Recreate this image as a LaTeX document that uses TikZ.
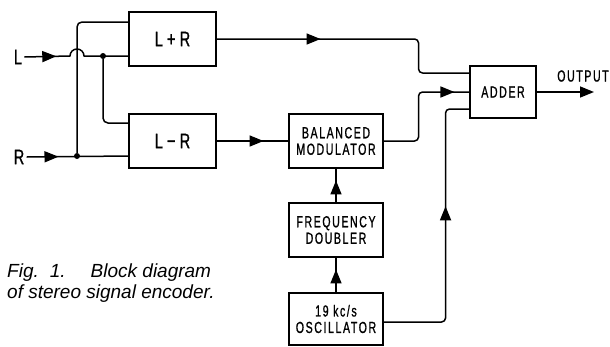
\documentclass[tikz,border=0pt]{standalone}
\usepackage{fontspec}
\setmainfont{Liberation Sans}
\newfontfamily\blockfont[FakeStretch=0.66, LetterSpace=10, FakeBold=1]{Liberation Sans}
\newfontfamily\bigfont[FakeStretch=0.7, FakeBold=0.8]{Liberation Sans}
\usetikzlibrary{arrows.meta, decorations.markings}

\begin{document}
\begin{tikzpicture}[
    x=1pt, y=-1pt,
    >={Triangle[length=14pt, width=11pt]},
    box/.style={draw, line width=1.1pt, minimum width=94pt, minimum height=54pt, inner sep=0pt, align=center, font=\blockfont\fontsize{16}{16.5}\selectfont},
    big/.style={font=\bigfont\fontsize{21}{21}\selectfont},
    lbl/.style={inner sep=2pt, font=\bigfont\fontsize{21}{21}\selectfont},
    txt/.style={inner sep=0pt, font=\blockfont\fontsize{16}{16}\selectfont},
    dot/.style={circle, fill, minimum size=6pt, inner sep=0pt},
    wire/.style={line width=1.5pt, line join=round},
    tipat/.style={postaction={decorate}, decoration={markings, mark=at position #1 with {\arrow{>}}}},
    captext/.style={inner sep=0pt, align=left, font=\itshape\fontsize{19}{21}\selectfont},
  ]
  \useasboundingbox (0,0) rectangle (610,346);
  % ---------------------------------------------------------------- blocks
  \node[box, big, minimum width=87pt] (lpr) at (172.5,39) {L + R};
  \node[box, big, minimum width=87pt] (lmr) at (172.5,141) {L − R};
  \node[box] (bal) at (336,141) {BALANCED\\MODULATOR};
  \node[box] (dbl) at (336,230) {FREQUENCY\\DOUBLER};
  \node[box, minimum height=52pt] (osc) at (336,319) {19 kc/s\\OSCILLATOR};
  \node[box, minimum width=66pt, minimum height=52pt] (add) at (503,92) {ADDER};
  % ---------------------------------------------------------------- inputs, output, junctions
  \node[lbl] (inL) at (18,57) {L};
  \node[lbl] (inR) at (19,157) {R};
  \node[txt] (outl) at (583,76) {OUTPUT};
  \coordinate (out) at (594,92);
  \node[dot] (jL) at (103,56) {};
  \node[dot] (jR) at (77,156) {};
  % ---------------------------------------------------------------- matrix
  \draw[wire, tipat=32pt] (inL.east) -- ([xshift=-7pt]jR |- jL) arc[start angle=180, end angle=0, radius=7pt] -- (lpr.west |- jL);
  \draw[wire, tipat=32pt] (inR.east) -- (lmr.west |- jR);
  \draw[wire, rounded corners=5pt] (jR) |- ([yshift=17pt]lpr.west);
  \draw[wire, rounded corners=5pt] (jL) |- ([yshift=18pt]lmr.west);
  % ---------------------------------------------------------------- to the adder
  \draw[wire, rounded corners=4pt, tipat=104pt] (lpr.east) -- ++(202,0) |- ([yshift=19pt]add.west);
  \draw[wire, tipat=47pt] (lmr.east) -- (bal.west);
  \draw[wire, rounded corners=4pt, tipat=-15pt] (bal.east) -- ++(35,0) |- (add.west);
  \draw[wire, rounded corners=4pt, tipat=176pt] ([yshift=-3pt]osc.east) -- ++(62,0) |- ([yshift=-17pt]add.west);
  \draw[wire, tipat=23pt] (osc.north) -- (dbl.south);
  \draw[wire, tipat=22pt] (dbl.north) -- (bal.south);
  \draw[wire, ->] (add.east) -- (out);
  % ---------------------------------------------------------------- caption
  \node[captext, anchor=north west] (capt) at (7,264) {Fig.\hspace{11pt}1.\hspace{25pt}Block diagram\\of stereo signal encoder.};
\end{tikzpicture}
\end{document}
